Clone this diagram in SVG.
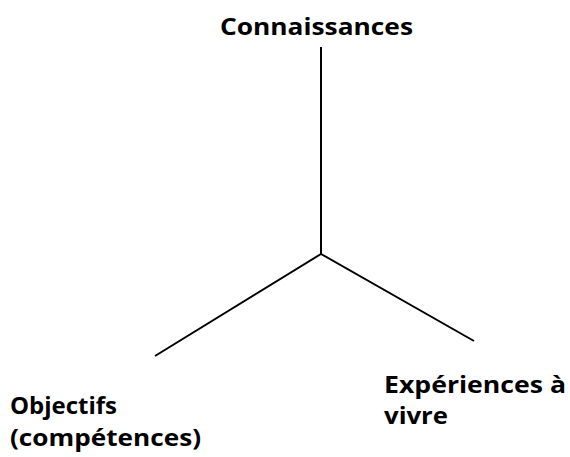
<svg xmlns="http://www.w3.org/2000/svg" width="570" height="457" viewBox="0 0 570 457">
<style>
.lbl{font-family:"Open Sans","Liberation Sans",sans-serif;font-weight:bold;font-size:24px;fill:#000}
.ln{stroke:#000;stroke-width:2;fill:none;stroke-linecap:butt}
</style>
<rect width="570" height="457" fill="#fff"/>
<g id="connectors">
<line class="ln" x1="321" y1="47" x2="321" y2="254"/>
<line class="ln" x1="321" y1="254" x2="155" y2="356"/>
<line class="ln" x1="321" y1="254" x2="474" y2="341"/>
</g>
<g id="node-connaissances"><text class="lbl" x="220" y="35" textLength="193" lengthAdjust="spacingAndGlyphs">Connaissances</text></g>
<g id="node-objectifs">
<text class="lbl" x="10" y="414" textLength="107" lengthAdjust="spacingAndGlyphs">Objectifs</text>
<text class="lbl" x="10" y="446" textLength="191" lengthAdjust="spacingAndGlyphs">(compétences)</text>
</g>
<g id="node-experiences">
<text class="lbl" x="384" y="393" textLength="182" lengthAdjust="spacingAndGlyphs">Expériences à</text>
<text class="lbl" x="384" y="424" textLength="64" lengthAdjust="spacingAndGlyphs">vivre</text>
</g>
</svg>
